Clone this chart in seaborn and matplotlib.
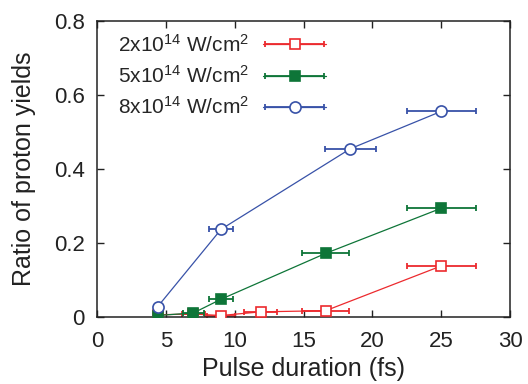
import pandas as pd
import matplotlib
matplotlib.use("Agg")
import matplotlib.pyplot as plt
import seaborn as sns
from matplotlib.container import ErrorbarContainer
from matplotlib.legend_handler import HandlerErrorbar

# ---------------- data ----------------
labels = [r"2x10$^{14}$ W/cm$^2$", r"5x10$^{14}$ W/cm$^2$", r"8x10$^{14}$ W/cm$^2$"]

red_x = [4.4, 7.0, 9.0, 11.9, 16.6, 25.0]
red_y = [0.006, 0.008, 0.004, 0.014, 0.017, 0.138]
red_xerr = [0.3, 0.8, 1.05, 1.2, 1.7, 2.5]

green_x = [4.4, 7.0, 9.0, 16.6, 25.0]
green_y = [0.004, 0.011, 0.048, 0.172, 0.294]
green_xerr = [0.3, 0.75, 0.9, 1.7, 2.5]

blue_x = [4.4, 9.0, 18.4, 25.0]
blue_y = [0.028, 0.237, 0.455, 0.556]
blue_xerr = [0.3, 0.9, 1.85, 2.5]

colors = ["#ec2a2e", "#0e7538", "#3852a8"]
markers = ["s", "s", "o"]
filled = [False, True, False]

# ---------------- style ----------------
sns.set_style("ticks")
plt.rcParams["font.family"] = ["Liberation Sans", "DejaVu Sans"]
plt.rcParams["mathtext.default"] = "regular"

fig = plt.figure(figsize=(5.28, 3.84), dpi=100)
ax = fig.add_axes([0.184, 0.1745, 0.782, 0.7705])

series = [
    (red_x, red_y, red_xerr),
    (green_x, green_y, green_xerr),
    (blue_x, blue_y, blue_xerr),
]

handles = []
for i, (xs, ys, xe) in enumerate(series):
    df = pd.DataFrame({"x": xs, "y": ys})
    eb = ax.errorbar(xs, ys, xerr=xe, fmt="none", ecolor=colors[i],
                     elinewidth=1.3, capsize=2.5, capthick=1.3, zorder=2 + i)
    sns.lineplot(data=df, x="x", y="y", ax=ax, color=colors[i],
                 marker=markers[i], markersize=7.5 if markers[i] == "s" else 8,
                 markerfacecolor=colors[i] if filled[i] else "white",
                 markeredgecolor=colors[i], markeredgewidth=1.2,
                 linewidth=0.9, sort=False, zorder=3 + i)
    ln = ax.get_lines()[-1]
    handles.append((eb, ln))

ax.set_xlim(0, 30)
ax.set_ylim(0, 0.8)
ax.set_xticks([0, 5, 10, 15, 20, 25, 30])
ax.set_yticks([0, 0.2, 0.4, 0.6, 0.8])
ax.set_yticklabels(["0", "0.2", "0.4", "0.6", "0.8"])
ax.tick_params(direction="in", top=True, right=True, length=5, width=1,
               labelsize=16, pad=9, colors="#222222")
ax.tick_params(axis="x", pad=10)
for s in ax.spines.values():
    s.set_linewidth(1.1)
    s.set_color("#222222")

ax.set_xlabel("Pulse duration (fs)", fontsize=18, color="#222222", labelpad=4)
ax.set_ylabel("Ratio of proton yields", fontsize=18, color="#222222", labelpad=13)

hl = 3.0
ax.legend(handles, labels, loc="upper left", frameon=False, markerfirst=False,
          fontsize=15, handlelength=hl, handletextpad=0.7, labelspacing=0.45,
          borderaxespad=0.2, bbox_to_anchor=(0.02, 1.0),
          handler_map={ErrorbarContainer: HandlerErrorbar(xerr_size=hl / 2 * 0.95)})

fig.savefig("out.png", dpi=100)
